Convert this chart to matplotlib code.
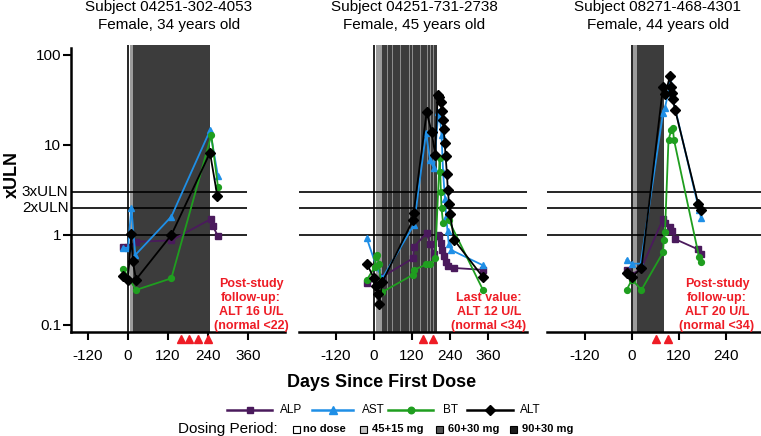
import matplotlib
matplotlib.use('Agg')
import matplotlib.pyplot as plt
import matplotlib.transforms as mtransforms
from matplotlib.lines import Line2D
from matplotlib.patches import Rectangle

plt.rcParams['font.family'] = ['Liberation Sans', 'DejaVu Sans']

# ---------------- data ----------------
# Panel 1: Subject 04251-302-4053
p1_alp_days = [-15, 0, 24, 130, 248, 254, 270]
p1_alp_vals = [0.73, 0.73, 0.84, 0.87, 1.5, 1.26, 0.97]
p1_ast_days = [-15, 0, 10, 22, 130, 246, 270]
p1_ast_vals = [0.72, 0.72, 2.0, 0.6, 1.6, 14.5, 4.5]
p1_bt_days = [-14, 24, 130, 250, 270]
p1_bt_vals = [0.42, 0.245, 0.33, 12.8, 3.4]
p1_alt_days = [-15, 0, 10, 14, 24, 130, 246, 268]
p1_alt_vals = [0.35, 0.32, 1.03, 0.52, 0.32, 1.0, 8.2, 2.7]

# Panel 2: Subject 04251-731-2738
p2_alp_days = [-22, 24, 123, 126, 166, 177, 188, 201, 206, 212, 216, 220, 226, 233, 253, 344]
p2_alp_vals = [0.29, 0.34, 0.55, 0.74, 1.05, 0.79, 0.62, 1.0, 0.98, 0.82, 0.68, 0.58, 0.5, 0.45, 0.43, 0.41]
p2_ast_days = [-23, 8, 26, 126, 164, 177, 189, 203, 208, 213, 218, 224, 228, 232, 236, 244, 344]
p2_ast_vals = [0.92, 0.44, 0.33, 1.3, 13.6, 6.8, 5.5, 23, 20, 13, 5, 2.5, 1.6, 1.1, 0.8, 0.68, 0.46]
p2_bt_days = [-22, 2, 5, 10, 16, 24, 122, 126, 165, 178, 193, 207, 209, 211, 213, 218, 236, 344]
p2_bt_vals = [0.32, 0.44, 0.57, 0.6, 0.47, 0.23, 0.36, 0.41, 0.47, 0.47, 0.55, 7.2, 5.0, 3.0, 2.0, 1.35, 1.45, 0.245]
p2_alt_days = [-23, 0, 6, 12, 16, 26, 123, 125, 166, 182, 193, 201, 205, 210, 214, 217, 220, 223, 226, 230, 233, 237, 240, 253, 344]
p2_alt_vals = [0.48, 0.33, 0.27, 0.22, 0.17, 0.3, 1.47, 1.75, 23, 14, 7.7, 36, 34, 30, 24, 19, 15, 10.5, 7.5, 4.8, 3.2, 2.2, 1.7, 0.88, 0.34]

# Panel 3: Subject 08271-468-4301
p3_alp_days = [-14, 0, 24, 79, 85, 97, 101, 110, 169, 175]
p3_alp_vals = [0.41, 0.36, 0.43, 1.5, 1.35, 1.23, 1.12, 0.9, 0.69, 0.62]
p3_ast_days = [-14, 0, 22, 79, 84, 98, 101, 171, 176]
p3_ast_vals = [0.53, 0.48, 0.48, 22.6, 26, 49, 37, 1.9, 1.55]
p3_bt_days = [-14, 0, 24, 79, 81, 84, 93, 100, 104, 107, 171, 176]
p3_bt_vals = [0.245, 0.32, 0.245, 0.64, 0.88, 1.07, 11.4, 14.6, 15.4, 11.4, 0.57, 0.5]
p3_alt_days = [-14, 0, 24, 79, 85, 97, 99, 101, 104, 110, 169, 175]
p3_alt_vals = [0.38, 0.34, 0.43, 44, 37, 59, 44, 38, 32, 24.5, 2.2, 1.9]

# dosing periods (start day, end day, regimen)
p1_dosing = [(5, 15, '45+15 mg'), (15, 246, '60+30 mg')]
p2_dosing = [(6, 26, '45+15 mg'), (26, 200, '60+30 mg')]
p2_stripes = [42, 59, 69, 84, 101, 112, 122, 135, 147, 158, 168, 179, 187, 196]
p3_dosing = [(3, 12, '45+15 mg'), (12, 82, '60+30 mg')]

# red markers (days)
p1_events = [159, 183, 210, 240]
p2_events = [155, 186]
p3_events = [61, 92]

titles = [("Subject 04251-302-4053", "Female, 34 years old"),
          ("Subject 04251-731-2738", "Female, 45 years old"),
          ("Subject 08271-468-4301", "Female, 44 years old")]
notes = ["Post-study\nfollow-up:\nALT 16 U/L\n(normal <22)",
         "Last value:\nALT 12 U/L\n(normal <34)",
         "Post-study\nfollow-up:\nALT 20 U/L\n(normal <34)"]

series_names = ['ALP', 'AST', 'BT', 'ALT']
dose_names = ['no dose', '45+15 mg', '60+30 mg', '90+30 mg']
uln_levels = [1, 2, 3]

# ---------------- style ----------------
colors = {'ALP': '#4a1a5c', 'AST': '#1f8fe6', 'BT': '#1f9e1f', 'ALT': '#000000'}
markers = {'ALP': ('s', 4.5), 'AST': ('^', 5), 'BT': ('o', 4.2), 'ALT': ('D', 5)}
dose_colors = {'no dose': '#ffffff', '45+15 mg': '#9c9c9c', '60+30 mg': '#3c3c3c', '90+30 mg': '#1a1a1a'}
legend_sq_colors = {'no dose': '#ffffff', '45+15 mg': '#c4c4c4', '60+30 mg': '#555555', '90+30 mg': '#1c1c1c'}
RED = '#ee1c25'

W, H = 761, 436
fig = plt.figure(figsize=(W / 100, H / 100), dpi=100)


def fx(px):
    return px / W


def fy(py):
    return 1 - py / H


top_px, bot_px = 45, 332
panel_specs = [
    dict(left=71, right=285, xlim=(-171, 471), ticks=[-120, 0, 120, 240, 360], hend=357,
         title_cx=169, note_cx=251, note_cy=305),
    dict(left=299, right=527, xlim=(-237, 483), ticks=[-120, 0, 120, 240, 360], hend=483,
         title_cx=414, note_cx=489, note_cy=312),
    dict(left=547, right=761, xlim=(-217, 329), ticks=[-120, 0, 120, 240], hend=329,
         title_cx=658, note_cx=717, note_cy=305),
]
panel_data = [
    dict(ALP=(p1_alp_days, p1_alp_vals), AST=(p1_ast_days, p1_ast_vals),
         BT=(p1_bt_days, p1_bt_vals), ALT=(p1_alt_days, p1_alt_vals),
         dosing=p1_dosing, stripes=[], events=p1_events),
    dict(ALP=(p2_alp_days, p2_alp_vals), AST=(p2_ast_days, p2_ast_vals),
         BT=(p2_bt_days, p2_bt_vals), ALT=(p2_alt_days, p2_alt_vals),
         dosing=p2_dosing, stripes=p2_stripes, events=p2_events),
    dict(ALP=(p3_alp_days, p3_alp_vals), AST=(p3_ast_days, p3_ast_vals),
         BT=(p3_bt_days, p3_bt_vals), ALT=(p3_alt_days, p3_alt_vals),
         dosing=p3_dosing, stripes=[], events=p3_events),
]

YMIN, YMAX = 0.0836, 129

for i, (spec, d) in enumerate(zip(panel_specs, panel_data)):
    ax = fig.add_axes([fx(spec['left']), fy(bot_px), (spec['right'] - spec['left']) / W,
                       (bot_px - top_px) / H])
    ax.set_yscale('log')
    ax.set_ylim(YMIN, YMAX)
    ax.set_xlim(*spec['xlim'])
    ax.patch.set_alpha(0)
    for s in ['top', 'right']:
        ax.spines[s].set_visible(False)
    ax.spines['bottom'].set_linewidth(1.8)
    if i == 0:
        ax.spines['left'].set_linewidth(1.8)
        ax.spines['left'].set_bounds(YMIN, 118)
        ax.set_yticks([0.1, 1, 10, 100])
        ax.set_yticklabels(['0.1', '1', '10', '100'])
        ax.tick_params(axis='y', which='major', length=6, width=1.5, pad=1, labelsize=11)
        tr = mtransforms.blended_transform_factory(ax.transAxes, ax.transData)
        ax.text(-0.012, 3, '3xULN', transform=tr, ha='right', va='center', fontsize=11)
        ax.text(-0.012, 2, '2xULN', transform=tr, ha='right', va='center', fontsize=11)
    else:
        ax.spines['left'].set_visible(False)
        ax.set_yticks([])
    ax.minorticks_off()
    ax.tick_params(axis='y', which='minor', left=False)
    ax.set_xticks(spec['ticks'])
    ax.set_xticklabels([str(t) for t in spec['ticks']])
    ax.tick_params(axis='x', length=6, width=1.5, pad=6, labelsize=11)

    # dosing shading
    for (s, e, dose) in d['dosing']:
        ax.axvspan(s, e, color=dose_colors[dose], lw=0, zorder=0)
    for st in d['stripes']:
        ax.axvspan(st - 0.9, st + 0.9, color='#8c8c8c', lw=0, zorder=0.5)
    ax.axvline(0, color='black', lw=1.2, zorder=1)

    # ULN reference lines
    ax.hlines(uln_levels, spec['xlim'][0], spec['hend'], color='black', lw=1.2, zorder=1)

    # series
    for name in series_names:
        xs, ys = d[name]
        m, ms = markers[name]
        ax.plot(xs, ys, color=colors[name], lw=1.3, marker=m, ms=ms, zorder=3)

    # red event markers below the axis
    trx = mtransforms.blended_transform_factory(ax.transData, ax.transAxes)
    ax.plot(d['events'], [-0.024] * len(d['events']), transform=trx, ls='none',
            marker='^', ms=5.2, color=RED, clip_on=False, zorder=5)

    # titles
    l1, l2 = titles[i]
    fig.text(fx(spec['title_cx']), fy(11), l1, ha='center', va='baseline', fontsize=11)
    fig.text(fx(spec['title_cx']), fy(29), l2, ha='center', va='baseline', fontsize=11)

    # red note
    fig.text(fx(spec['note_cx']), fy(spec['note_cy']), notes[i], ha='center', va='center',
             color=RED, fontsize=9, fontweight='bold', linespacing=1.2)

# axis labels
fig.text(fx(12), fy(175), 'xULN', rotation=90, fontweight='bold', fontsize=13,
         ha='center', va='center')
fig.text(fx(382), fy(382), 'Days Since First Dose', fontweight='bold', fontsize=13,
         ha='center', va='center')

# series legend (manual)
leg_y = 410
leg_items = [('ALP', 227, 272, 280), ('AST', 312, 353, 362), ('BT', 388, 433, 443), ('ALT', 467, 513, 520)]
for name, x0, x1, xt in leg_items:
    m, ms = markers[name]
    fig.add_artist(Line2D([fx(x0), fx(x1)], [fy(leg_y), fy(leg_y)], transform=fig.transFigure,
                          color=colors[name], lw=1.8))
    fig.add_artist(Line2D([fx((x0 + x1) / 2)], [fy(leg_y)], transform=fig.transFigure,
                          color=colors[name], marker=m, ms=ms + 0.5, ls='none'))
    fig.text(fx(xt), fy(leg_y), name, ha='left', va='center', fontsize=8.5)

# dosing legend
dose_y = 429
fig.text(fx(178), fy(dose_y), 'Dosing Period:', ha='left', va='center', fontsize=11)
dose_pos = [(296, 303), (363, 372), (439, 448), (513, 522)]
for name, (sx, tx) in zip(dose_names, dose_pos):
    fig.add_artist(Rectangle((fx(sx - 3.5), fy(dose_y + 3.5)), 7 / W, 7 / H,
                             transform=fig.transFigure, facecolor=legend_sq_colors[name],
                             edgecolor='black', lw=0.8))
    fig.text(fx(tx), fy(dose_y), name, ha='left', va='center', fontsize=8, fontweight='bold')

fig.savefig('out.png', dpi=100)
